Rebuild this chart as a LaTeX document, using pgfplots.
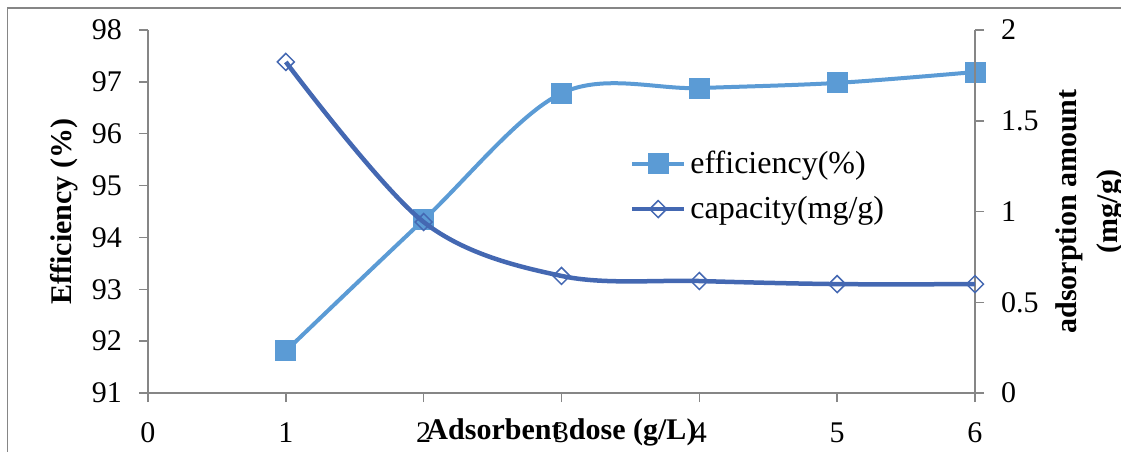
\documentclass[border=0pt]{standalone}
\usepackage{pgfplots}
\pgfplotsset{compat=1.18}
\usepackage{fontspec}
\setmainfont{Liberation Serif}
\definecolor{effc}{RGB}{91,155,213}
\definecolor{capc}{RGB}{68,104,178}
\definecolor{axc}{RGB}{134,134,134}
\begin{document}
\begin{tikzpicture}
\path[use as bounding box, clip] (0,0) rectangle (560.5pt,225.5pt);
\draw[color=axc, line width=0.75pt] (3.75pt,-20pt) rectangle (600pt,221.5pt);
\pgfplotsset{
  base/.style={
    width=413.5pt, height=181.5pt, scale only axis,
    at={(74pt,29pt)}, anchor=origin,
    xmin=0, xmax=6,
    axis line style={color=axc, line width=0.75pt},
    tick style={color=axc, line width=0.75pt},
    tick align=outside,
    major tick length=4.5pt,
    /pgf/number format/assume math mode=true,
    ticklabel style={font=\fontsize{15}{18}\selectfont, color=black},
    label style={font=\fontsize{15}{20.5}\selectfont\bfseries},
  },
}
\begin{axis}[base,
  axis x line*=bottom, axis y line*=left,
  ymin=91, ymax=98,
  xtick={0,1,2,3,4,5,6},
  ytick={91,92,...,98},
  xticklabel style={anchor=center, yshift=-15.5pt},
  yticklabel style={anchor=east, xshift=-5pt},
  xlabel={Adsorbent dose (g/L)},
  xlabel style={at={([yshift=-19.5pt]axis description cs:0.5,0)}, anchor=center},
  ylabel={Efficiency (\%)},
  ylabel style={at={([xshift=-42pt]axis description cs:0,0.5)}, anchor=center},
]
\addplot[color=effc, line width=2pt, smooth, tension=0.55,
  mark=square*, mark size=5pt, mark options={solid, fill=effc, draw=effc, line width=0.5pt}]
  coordinates {(1,91.81) (2,94.34) (3,96.78) (4,96.88) (5,96.98) (6,97.19)};
\end{axis}
\begin{axis}[base,
  axis x line=none, axis y line*=right,
  ymin=0, ymax=2,
  ytick={0,0.5,1,1.5,2},
  yticklabel style={anchor=west, xshift=5pt},
  ylabel={adsorption amount\\(mg/g)},
  ylabel style={align=center, at={([xshift=57.5pt]axis description cs:1,0.5)}, anchor=center},
  legend style={at={(axis description cs:0.575,0.69)}, anchor=north west, draw=none, fill=none,
    font=\fontsize{16}{19}\selectfont, row sep=6pt,
    legend cell align=left},
  legend image code/.code={\draw[mark repeat=2,mark phase=2] plot coordinates {(0pt,0pt) (13pt,0pt) (26pt,0pt)};},
]
\addlegendimage{color=effc, line width=2pt, mark=square*, mark size=5pt, mark options={solid, fill=effc, draw=effc, line width=0.5pt}}
\addlegendentry{efficiency(\%)}
\addplot[color=capc, line width=2.25pt, smooth, tension=0.55,
  mark=square, mark size=3pt, mark options={solid, rotate=45, fill=white, draw=capc, line width=0.75pt}]
  coordinates {(1,1.824) (2,0.942) (3,0.645) (4,0.617) (5,0.60) (6,0.60)};
\addlegendentry{capacity(mg/g)}
\end{axis}
\end{tikzpicture}
\end{document}
